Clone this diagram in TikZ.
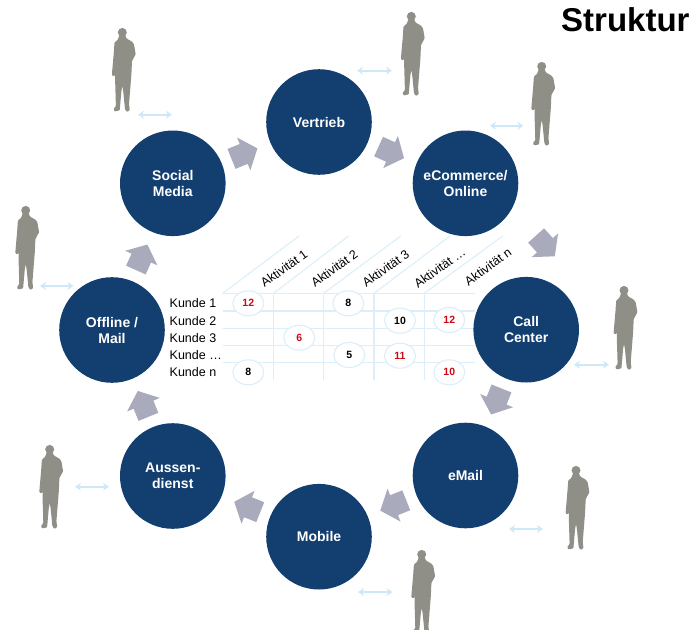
\documentclass[tikz,border=0pt]{standalone}
\usepackage{fontspec}
\setmainfont{Liberation Sans}
\usetikzlibrary{shapes.arrows,shapes.geometric,arrows.meta}
\definecolor{navy}{HTML}{123E70}
\definecolor{blockgray}{HTML}{A9ABBC}
\definecolor{persongray}{HTML}{8F8F87}
\definecolor{palearrow}{HTML}{CFE8F7}
\definecolor{gridblue}{HTML}{DCEEFA}
\definecolor{numred}{HTML}{CC0A14}
\tikzset{
  channel/.style={circle,fill=navy,draw=none,minimum size=105.6pt,inner sep=0pt,text=white,
    font=\fontsize{14}{16}\selectfont\bfseries,align=center},
  flow/.style={single arrow,fill=blockgray,draw=none,inner xsep=0pt,inner ysep=10.5pt,minimum width=35pt,
    minimum height=28pt,single arrow head extend=7pt,single arrow tip angle=100,anchor=tip},
  link/.style={draw=palearrow,line width=1.7pt,{Stealth[length=6pt,width=8pt]}-{Stealth[length=6pt,width=8pt]}},
  gridline/.style={draw=gridblue,line width=1.1pt},
  customer/.style={anchor=west,inner sep=0pt,font=\fontsize{12.5}{14}\selectfont},
  activity/.style={rotate=36,inner sep=0pt,font=\fontsize{12.5}{14}\selectfont},
  score/.style={ellipse,draw=gridblue,line width=1.1pt,fill=white,minimum width=31pt,minimum height=25pt,
    inner sep=0pt,font=\fontsize{10.5}{12}\selectfont\bfseries},
  hot/.style={score,text=numred},
  person/.pic={
    \fill[persongray] (0,4.4) circle[radius=4.5pt];
    \fill[persongray,rounded corners=0.8pt] (-2.8,7) -- (-4.7,12) -- (-7.8,14.5) -- (-8.5,24.7) -- (-10.1,43) -- (-10.4,47.3)
      -- (-8,48.5) -- (-7.2,46) -- (-7.1,54.7) -- (-6.4,78) -- (-8.9,81.3) -- (-7.3,83.5) -- (-2.6,82.3) -- (-0.9,63)
      -- (0,58) -- (0.9,63) -- (2.7,81.3) -- (4.7,84) -- (7.5,82) -- (6.7,76.3) -- (9.1,46.3) -- (9.7,33)
      -- (13.4,26.3) -- (11.7,16.3) -- (9.7,13.6) -- (4.2,10.5) -- (2.8,7) -- cycle;
  }
}
\begin{document}
\begin{tikzpicture}[x=1pt,y=-1pt]
\useasboundingbox (0,0) rectangle (695,629);
\clip (0,0) rectangle (695,629);
% table grid
\coordinate (d1a) at (222.7,293.3); \coordinate (d1b) at (299,236);
\coordinate (d2a) at (273.7,293.3); \coordinate (d2b) at (348.5,236);
\coordinate (d3a) at (323.7,293.3); \coordinate (d3b) at (400.7,236);
\coordinate (d4a) at (374,293.3);   \coordinate (d4b) at (450,236);
\coordinate (d5a) at (424.3,293.3); \coordinate (d5b) at (502.7,236);
\draw[gridline] (d1a)--(d1b) (d2a)--(d2b) (d3a)--(d3b) (d4a)--(d4b) (d5a)--(d5b);
\coordinate (v2) at (273.7,380); \coordinate (v3) at (323.7,380);
\coordinate (v4) at (374,380);   \coordinate (v5) at (424.3,380);
\draw[gridline] (d2a)--(v2) (d3a)--(v3) (d4a)--(v4) (d5a)--(v5);
\coordinate (h1e) at (475,293.3);
\coordinate (h2a) at (222.7,311);   \coordinate (h2e) at (475,311);
\coordinate (h3a) at (222.7,328.3); \coordinate (h3e) at (475,328.3);
\coordinate (h4a) at (222.7,345.3); \coordinate (h4e) at (475,345.3);
\coordinate (h5a) at (222.7,362.3); \coordinate (h5e) at (475,362.3);
\draw[gridline] (d1a)--(h1e) (h2a)--(h2e) (h3a)--(h3e) (h4a)--(h4e) (h5a)--(h5e);
% table texts
\node[customer] (k1) at (169.5,303.3) {Kunde 1};
\node[customer] (k2) at (169.5,320.7) {Kunde 2};
\node[customer] (k3) at (169.5,338) {Kunde 3};
\node[customer] (k4) at (169.5,355) {Kunde …};
\node[customer] (k5) at (169.5,372) {Kunde n};
\node[activity] (a1) at (284,268.3) {Aktivität 1};
\node[activity] (a2) at (334.3,268.3) {Aktivität 2};
\node[activity] (a3) at (385.7,268.3) {Aktivität 3};
\node[activity] (a4) at (439.7,267.7) {Aktivität …};
\node[activity] (a5) at (488,267) {Aktivität n};
\node[hot] (s1) at (248.3,303.3) {12};
\node[score] (s2) at (348.3,303.3) {8};
\node[score] (s3) at (400,320.7) {10};
\node[hot] (s4) at (449.3,320) {12};
\node[hot] (s5) at (299.3,337.7) {6};
\node[score] (s6) at (349.3,355) {5};
\node[hot] (s7) at (400,355.7) {11};
\node[score] (s8) at (248.3,372.3) {8};
\node[hot] (s9) at (449.3,372.3) {10};
% channels
\node[channel] (vertrieb) at (319,122) {Vertrieb};
\node[channel] (social) at (172.8,183.3) {Social\\Media};
\node[channel] (ecom) at (465.5,183.3) {eCommerce/\\Online};
\node[channel] (call) at (526.2,329.7) {Call\\Center};
\node[channel] (email) at (465.5,475.5) {eMail};
\node[channel] (mobile) at (319,536.7) {Mobile};
\node[channel] (aussen) at (172.8,476) {Aussen-\\dienst};
\node[channel] (offline) at (112,330) {Offline /\\Mail};
% flow arrows
\node[flow,rotate=22] (f1) at (257.7,148.3) {};
\node[flow,rotate=-24.5] (f2) at (404.3,158.3) {};
\node[flow,rotate=-48] (f3) at (555,256.5) {};
\node[flow,rotate=-111.8] (f4) at (491,414.7) {};
\node[flow,rotate=201.6] (f5) at (380,510.7) {};
\node[flow,rotate=158.3] (f6) at (234,501.7) {};
\node[flow,rotate=112.4] (f7) at (137.7,390.7) {};
\node[flow,rotate=65.7] (f8) at (147.5,244.3) {};
% people
\pic at (122.3,28) {person};
\pic at (411.3,12) {person};
\pic at (541.7,62) {person};
\pic at (25.7,206) {person};
\pic at (624,286) {person};
\pic at (576,466) {person};
\pic at (49.7,445) {person};
\pic at (421.7,550) {person};
% two-way links
\coordinate (l1a) at (138,114.7); \coordinate (l1b) at (172,114.7);
\coordinate (l2a) at (357,70.7);  \coordinate (l2b) at (392,70.7);
\coordinate (l3a) at (490,125.7); \coordinate (l3b) at (523.5,125.7);
\coordinate (l4a) at (574,364.7); \coordinate (l4b) at (609,364.7);
\coordinate (l5a) at (509,529);   \coordinate (l5b) at (543,529);
\coordinate (l6a) at (358,592);   \coordinate (l6b) at (392.5,592);
\coordinate (l7a) at (75,486.7);  \coordinate (l7b) at (109,486.7);
\coordinate (l8a) at (40,286);    \coordinate (l8b) at (73.5,286);
\draw[link] (l1a)--(l1b);
\draw[link] (l2a)--(l2b);
\draw[link] (l3a)--(l3b);
\draw[link] (l4a)--(l4b);
\draw[link] (l5a)--(l5b);
\draw[link] (l6a)--(l6b);
\draw[link] (l7a)--(l7b);
\draw[link] (l8a)--(l8b);
% title
\node[anchor=base west,inner sep=0pt,font=\fontsize{33}{36}\selectfont\bfseries] (title) at (561,31) {Struktur};
\end{tikzpicture}
\end{document}
